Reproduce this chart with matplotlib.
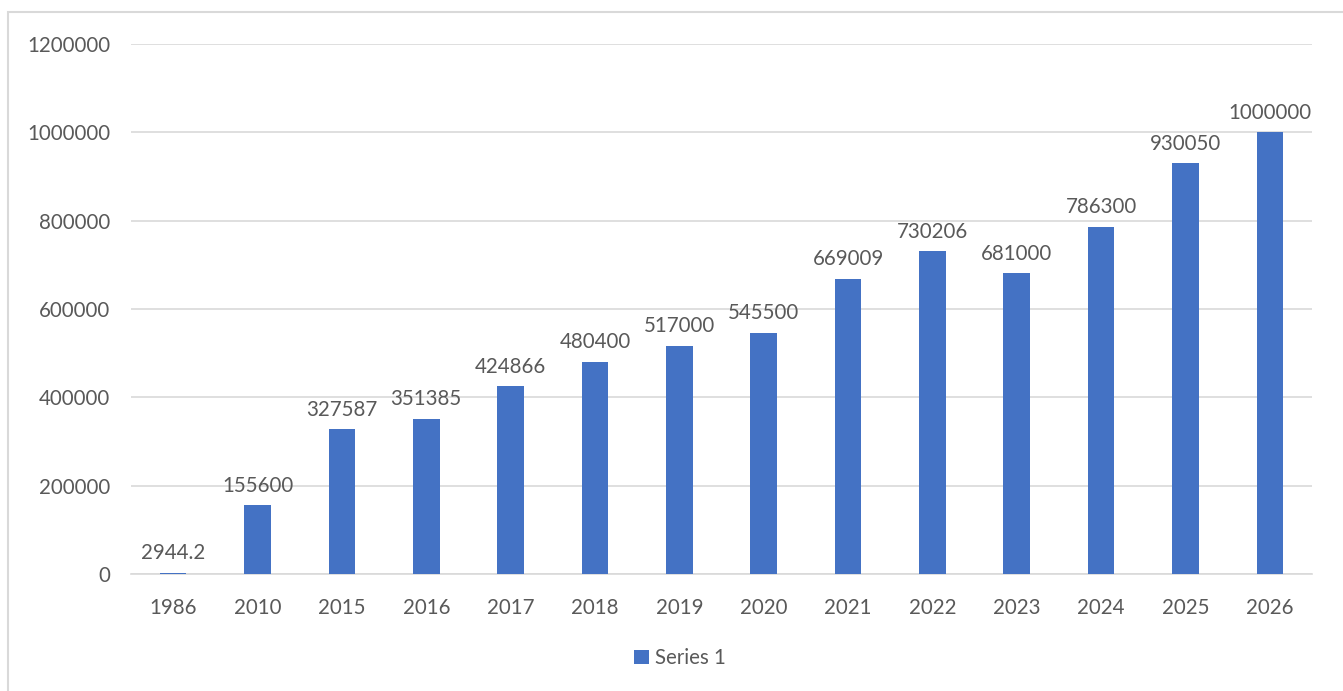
import matplotlib.pyplot as plt
from matplotlib.patches import Rectangle

# Chart data
years = ["1986", "2010", "2015", "2016", "2017", "2018", "2019",
         "2020", "2021", "2022", "2023", "2024", "2025", "2026"]
series1 = [2944.2, 155600, 327587, 351385, 424866, 480400, 517000,
           545500, 669009, 730206, 681000, 786300, 930050, 1000000]
value_labels = ["2944.2", "155600", "327587", "351385", "424866", "480400", "517000",
                "545500", "669009", "730206", "681000", "786300", "930050", "1000000"]
y_ticks = [0, 200000, 400000, 600000, 800000, 1000000, 1200000]

plt.rcParams['font.family'] = ['Lato', 'DejaVu Sans']
text_grey = "#595959"
grid_grey = "#D9D9D9"
bar_blue = "#4472C4"
fs = 14.8

fig = plt.figure(figsize=(13.43, 6.91), dpi=100)

# chart area border (cut off on right and bottom like the reference)
fig.patches.append(Rectangle((8 / 1343, -0.05), 1.1, 1 - 12 / 691 + 0.05,
                             transform=fig.transFigure, fill=False,
                             edgecolor=grid_grey, linewidth=1.5))

ax = fig.add_axes([131 / 1343, 1 - 574 / 691, (1312 - 131) / 1343, (574 - 44) / 691])

x = range(len(years))
bars = ax.bar(x, series1, width=0.315, color=bar_blue, zorder=3, label="Series 1")

for xi, v, lab in zip(x, series1, value_labels):
    ax.annotate(lab, (xi, v), xytext=(0, 7), textcoords="offset points",
                ha="center", va="bottom", fontsize=fs, color=text_grey)

ax.set_xlim(-0.5, len(years) - 0.5)
ax.set_ylim(0, 1200000)
ax.set_yticks(y_ticks)
ax.set_yticklabels([str(t) for t in y_ticks])
ax.set_xticks(list(x))
ax.set_xticklabels(years)
ax.tick_params(axis="both", length=0, labelsize=fs, labelcolor=text_grey)
ax.tick_params(axis="y", pad=15)
ax.tick_params(axis="x", pad=17)

ax.grid(axis="y", color=grid_grey, linewidth=1.2, zorder=0)
for side in ["top", "right", "left"]:
    ax.spines[side].set_visible(False)
ax.spines["bottom"].set_color(grid_grey)
ax.spines["bottom"].set_linewidth(1.2)

fig.legend(handles=[bars], labels=["Series 1"], loc="center",
           bbox_to_anchor=(680 / 1343, 1 - 658 / 691), frameon=False,
           fontsize=fs, labelcolor=text_grey, handlelength=0.7,
           handleheight=0.7, handletextpad=0.3)

fig.savefig("out.png", dpi=100)
